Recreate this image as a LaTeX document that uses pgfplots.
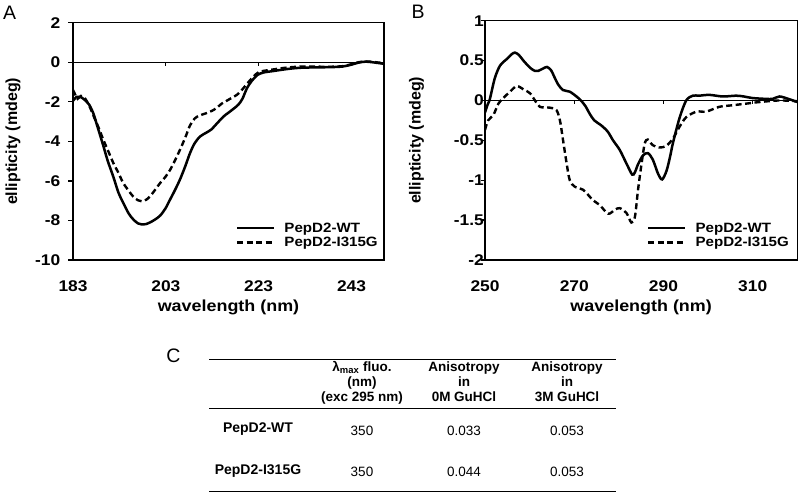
\documentclass[border=0pt]{standalone}
\usepackage{fontspec}
\setmainfont{Liberation Sans}[FakeStretch=1.12]
\newfontfamily\plainfont{Liberation Sans}
\usepackage{pgfplots}
\pgfplotsset{compat=1.18}

\pgfplotstableread{
nm v
183 -1.95
183.8 -1.75
184.6 -1.75
185.5 -1.9
186.5 -2.15
187.4 -2.6
188.2 -3.2
189.5 -4.2
190.5 -5.0
191.7 -5.8
192.8 -6.6
193.8 -7.1
195 -7.65
196 -7.95
197 -8.15
197.8 -8.2
198.8 -8.18
199.6 -8.1
200.7 -7.95
201.8 -7.75
202.9 -7.4
203.9 -6.95
205 -6.45
206.1 -5.9
207.2 -5.25
208.2 -4.6
209.2 -4.1
210.4 -3.75
211.8 -3.55
212.8 -3.4
213.8 -3.15
215.4 -2.75
216.5 -2.55
217.6 -2.35
218.6 -2.15
219.5 -1.85
220.5 -1.3
221.5 -0.95
222.7 -0.65
224 -0.52
226 -0.45
228 -0.38
230 -0.32
232 -0.28
235 -0.26
238 -0.25
241 -0.22
243 -0.12
244.5 -0.02
246 0.03
247.5 0.0
250 -0.08
}\wtA

\pgfplotstableread{
nm v
183 -1.4
183.5 -1.65
184 -1.85
184.7 -1.7
185.5 -1.8
186.5 -2.2
187.4 -2.7
188.5 -3.3
189.5 -3.9
190.6 -4.5
191.7 -5.1
192.8 -5.6
193.8 -6.1
195 -6.5
196 -6.8
197 -6.98
197.8 -7.03
198.8 -6.95
199.6 -6.78
200.7 -6.45
201.8 -6.1
202.9 -5.8
203.9 -5.45
205 -4.95
206.1 -4.4
207.2 -3.8
208.2 -3.2
209.2 -2.85
210.2 -2.7
211.8 -2.57
213 -2.45
214 -2.3
215 -2.1
216.1 -1.95
217.2 -1.8
218.3 -1.65
219.2 -1.45
220.1 -1.2
221 -0.95
221.9 -0.72
223 -0.5
224.5 -0.42
226 -0.37
228 -0.3
230 -0.25
232 -0.22
235 -0.22
238 -0.23
241 -0.2
243 -0.1
244.5 0.0
246 0.04
247.5 0.02
250 -0.05
}\mutA

\pgfplotstableread{
nm v
250 -0.15
250.6 -0.05
251.1 0.02
252.2 0.28
253.4 0.44
254.9 0.52
256 0.58
256.7 0.6
257.6 0.57
258.6 0.5
260.1 0.41
261.2 0.37
261.9 0.37
263 0.4
263.9 0.42
264.8 0.38
265.5 0.3
266.4 0.2
267.5 0.13
269 0.11
270.5 0.05
271.5 0.0
272.5 -0.07
273.5 -0.17
274.5 -0.25
276 -0.31
277.5 -0.39
278.7 -0.5
280.2 -0.62
281.7 -0.79
283 -0.93
283.6 -0.9
284.3 -0.8
285.4 -0.69
286.5 -0.66
287.6 -0.74
288.8 -0.92
289.7 -0.99
290.7 -0.88
291.5 -0.7
292.1 -0.54
293.6 -0.22
295.1 0.0
296.6 0.06
298 0.06
300.3 0.07
303.3 0.05
306.3 0.06
308 0.05
310 0.03
312.9 0.02
314.5 0.02
316 0.05
318 0.02
320 -0.02
}\wtB

\pgfplotstableread{
nm v
250 -0.37
250.7 -0.25
251.9 -0.18
253 -0.04
254.1 0.03
255.6 0.11
257.1 0.18
258.6 0.14
260.1 0.09
261.2 0.0
262.3 -0.08
264.5 -0.09
266 -0.12
266.8 -0.25
267.5 -0.5
268.3 -0.79
269 -1.0
270.1 -1.08
272 -1.12
274.2 -1.25
275.7 -1.31
277.6 -1.42
279.1 -1.37
280.2 -1.35
281.7 -1.41
282.8 -1.53
283.6 -1.46
284.3 -1.12
285.1 -0.79
285.8 -0.54
286.5 -0.49
287.6 -0.56
289.1 -0.59
290.6 -0.57
292.1 -0.48
293.6 -0.33
295.1 -0.21
297.4 -0.14
299.6 -0.14
302.5 -0.08
305.5 -0.06
308.5 -0.04
311.5 -0.02
316 0.0
320 -0.01
}\mutB

\pgfplotsset{
  cdstyle/.style={
    scale only axis,
    axis line style={line width=1.3pt},
    tick style={line width=1.3pt, black},
    tick align=outside,
    major tick length=4.5pt,
    ytick pos=left,
    xtick style={draw=none},
    ticklabel style={font=\fontsize{15.5}{17}\selectfont\bfseries, inner sep=0pt},
    yticklabel style={anchor=east},
    xticklabel style={anchor=north},
    xlabel style={font=\fontsize{16}{18}\selectfont\bfseries, inner sep=0pt, anchor=center},
    ylabel style={font=\plainfont\fontsize{16}{18}\selectfont\bfseries, inner sep=0pt, anchor=center, rotate=0},
    legend style={draw=none, fill=none, anchor=south west, inner sep=0pt, outer sep=0pt,
      font=\fontsize{13.5}{15}\selectfont\bfseries, row sep=3.5pt, column sep=9pt,
      nodes={inner sep=0pt}},
    legend cell align=left,
    legend image code/.code={\draw[##1] (0pt,0pt) -- (37pt,0pt);},
    wt/.style={black, line width=2.5pt, smooth},
    mut/.style={black, line width=2.4pt, smooth, dash pattern=on 6pt off 3.5pt},
  }
}

\begin{document}
\begin{tikzpicture}[x=1pt,y=1pt]
\useasboundingbox (0pt,0pt) rectangle (800pt,494pt);

% panel A
\begin{axis}[cdstyle,
  at={(73pt,234pt)}, anchor=south west, width=311pt, height=237.3pt,
  xmin=183, xmax=250, ymin=-10, ymax=2,
  xtick={183,203,223,243}, xticklabels={183,203,223,243},
  ytick={-10,-8,-6,-4,-2,0,2}, yticklabels={-10,-8,-6,-4,-2,0,2},
  xticklabel style={yshift=-16pt},
  yticklabel style={xshift=-8pt},
  xlabel={wavelength (nm)}, ylabel={ellipticity (mdeg)},
  xlabel style={at={(axis description cs:0.5,-0.2)}},
  ylabel style={at={(axis description cs:-0.193,0.5)}},
  legend style={at={(0.524,0.05)}},
]
\addplot[black, line width=1.3pt, forget plot] coordinates {(183,0) (250,0)};
\addplot[wt] table[x=nm, y=v] {\wtA};
\addlegendentry{PepD2-WT}
\addplot[mut] table[x=nm, y=v] {\mutA};
\addlegendentry{PepD2-I315G}
\pgfplotsinvokeforeach{203,223,243}{\draw[line width=1.3pt] (axis cs:#1,0) -- ++(0pt,-4pt);}
\end{axis}

% panel B
\begin{axis}[cdstyle,
  at={(485pt,234pt)}, anchor=south west, width=312.3pt, height=239.3pt,
  xmin=250, xmax=320, ymin=-2, ymax=1,
  xtick={250,270,290,310}, xticklabels={250,270,290,310},
  ytick={-2,-1.5,-1,-0.5,0,0.5,1}, yticklabels={-2,-1.5,-1,-0.5,0,0.5,1},
  xticklabel style={yshift=-16pt},
  yticklabel style={xshift=3.5pt},
  xlabel={wavelength (nm)}, ylabel={ellipticity (mdeg)},
  xlabel style={at={(axis description cs:0.5,-0.198)}},
  ylabel style={at={(axis description cs:-0.219,0.5)}},
  legend style={at={(0.519,0.05)}},
]
\addplot[black, line width=1.3pt, forget plot] coordinates {(250,0) (320,0)};
\addplot[wt] table[x=nm, y=v] {\wtB};
\addlegendentry{PepD2-WT}
\addplot[mut] table[x=nm, y=v] {\mutB};
\addlegendentry{PepD2-I315G}
\pgfplotsinvokeforeach{270,290,310}{\draw[line width=1.3pt] (axis cs:#1,0) -- ++(0pt,-4pt);}
\end{axis}

% panel letters
\node[font=\plainfont\fontsize{19.5}{20}\selectfont, inner sep=0pt] at (9.7pt,481pt) {A};
\node[font=\plainfont\fontsize{19.5}{20}\selectfont, inner sep=0pt] at (418pt,482.3pt) {B};
\node[font=\plainfont\fontsize{19.5}{20}\selectfont, inner sep=0pt] at (173.3pt,138.5pt) {C};

% table C
\begin{scope}[every node/.style={font=\plainfont\fontsize{13.5}{15}\selectfont, inner sep=0pt, anchor=base}]
\draw[line width=1.4pt] (209pt,134.7pt) -- (616pt,134.7pt);
\draw[line width=1.4pt] (209pt,85.5pt) -- (616pt,85.5pt);
\draw[line width=1.4pt] (209pt,2.3pt) -- (616pt,2.3pt);
\node[font=\plainfont\fontsize{13.5}{15}\selectfont\bfseries] at (362pt,122.5pt) {λ\textsubscript{max} fluo.};
\node[font=\plainfont\fontsize{13.5}{15}\selectfont\bfseries] at (362pt,107.5pt) {(nm)};
\node[font=\plainfont\fontsize{13.5}{15}\selectfont\bfseries] at (362pt,92.3pt) {(exc 295 nm)};
\node[font=\plainfont\fontsize{13.5}{15}\selectfont\bfseries] at (464pt,122.5pt) {Anisotropy};
\node[font=\plainfont\fontsize{13.5}{15}\selectfont\bfseries] at (464pt,107.5pt) {in};
\node[font=\plainfont\fontsize{13.5}{15}\selectfont\bfseries] at (464pt,92.3pt) {0M GuHCl};
\node[font=\plainfont\fontsize{13.5}{15}\selectfont\bfseries] at (567pt,122.5pt) {Anisotropy};
\node[font=\plainfont\fontsize{13.5}{15}\selectfont\bfseries] at (567pt,107.5pt) {in};
\node[font=\plainfont\fontsize{13.5}{15}\selectfont\bfseries] at (567pt,92.3pt) {3M GuHCl};
\node[font=\plainfont\fontsize{14}{15}\selectfont\bfseries] at (258pt,61.5pt) {PepD2-WT};
\node[font=\plainfont\fontsize{14}{15}\selectfont\bfseries] at (258pt,19.5pt) {PepD2-I315G};
\node at (362pt,58.5pt) {350};
\node at (464pt,58.5pt) {0.033};
\node at (567pt,58.5pt) {0.053};
\node at (362pt,17pt) {350};
\node at (464pt,17pt) {0.044};
\node at (567pt,17pt) {0.053};
\end{scope}
\end{tikzpicture}
\end{document}
